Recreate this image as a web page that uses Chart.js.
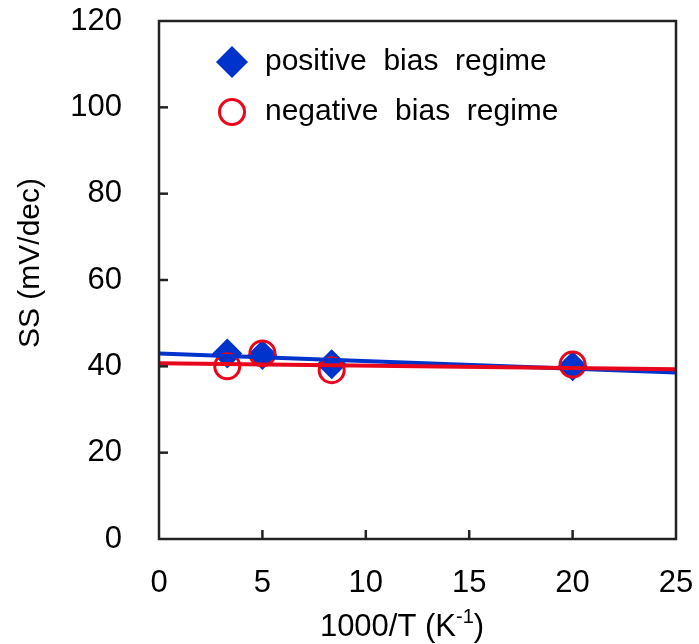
<!DOCTYPE html>
<html>
<head>
<meta charset="utf-8">
<script src="https://cdn.jsdelivr.net/npm/chart.js@4/dist/chart.umd.min.js"></script>
<style>
  html, body { margin: 0; padding: 0; background: #fff; }
  #chart { display: block; }
</style>
</head>
<body>
<canvas id="chart" width="699" height="644"></canvas>
<script>
// data
const invTemp = [3.3, 5.0, 8.35, 20.0];
const positiveSS = [43.0, 42.6, 40.5, 40.0];
const negativeSS = [40.0, 43.0, 39.1, 40.4];
const fitX = [0, 25];
const positiveFit = [43.0, 38.6];
const negativeFit = [40.7, 39.3];
const xTicks = [0, 5, 10, 15, 20, 25];
const yTicks = [0, 20, 40, 60, 80, 100, 120];

const blue = '#0033cc';
const red = '#e8061c';
const frame = '#222';
const fontFamily = '"Liberation Sans", Arial, sans-serif';

const toPoints = (xs, ys) => xs.map((x, i) => ({ x: x, y: ys[i] }));

const noPadding = scale => {
    scale.paddingTop = 0;
    scale.paddingBottom = 0;
    scale.paddingLeft = 0;
    scale.paddingRight = 0;
};

// frame, inward ticks, axis titles and legend
const decorations = {
    id: 'decorations',
    afterDraw(chart) {
        const ctx = chart.ctx;
        const area = chart.chartArea;
        const xs = chart.scales.x;
        const ys = chart.scales.y;
        ctx.save();

        ctx.strokeStyle = frame;
        ctx.lineWidth = 2.5;
        ctx.strokeRect(area.left, area.top, area.right - area.left, area.bottom - area.top);

        xTicks.slice(1, -1).forEach(v => {
            const px = xs.getPixelForValue(v);
            ctx.beginPath();
            ctx.moveTo(px, area.bottom);
            ctx.lineTo(px, area.bottom - 9);
            ctx.stroke();
        });
        yTicks.slice(1, -1).forEach(v => {
            const py = ys.getPixelForValue(v);
            ctx.beginPath();
            ctx.moveTo(area.left, py);
            ctx.lineTo(area.left + 9, py);
            ctx.stroke();
        });

        ctx.fillStyle = '#000';
        ctx.textBaseline = 'middle';

        // y title
        ctx.save();
        ctx.translate(31, 263);
        ctx.rotate(-Math.PI / 2);
        ctx.textAlign = 'center';
        ctx.font = '30px ' + fontFamily;
        ctx.fillText('SS (mV/dec)', 0, 0);
        ctx.restore();

        // x title with superscript
        ctx.font = '31px ' + fontFamily;
        const part1 = '1000/T (K';
        const sup = '-1';
        const part3 = ')';
        const w1 = ctx.measureText(part1).width;
        const w3 = ctx.measureText(part3).width;
        ctx.font = '20px ' + fontFamily;
        const w2 = ctx.measureText(sup).width;
        const total = w1 + w2 + w3;
        const tx = 402 - total / 2;
        const ty = 627;
        ctx.textAlign = 'left';
        ctx.font = '31px ' + fontFamily;
        ctx.fillText(part1, tx, ty);
        ctx.font = '20px ' + fontFamily;
        ctx.fillText(sup, tx + w1, ty - 10);
        ctx.font = '31px ' + fontFamily;
        ctx.fillText(part3, tx + w1 + w2, ty);

        // legend
        const legendRows = [
            { label: chart.data.datasets[3].label, style: 'rectRot', radius: 16, fill: blue, stroke: blue, bw: 0, y: 62 },
            { label: chart.data.datasets[2].label, style: 'circle', radius: 12.5, fill: 'rgba(0,0,0,0)', stroke: red, bw: 3, y: 112 }
        ];
        legendRows.forEach(row => {
            ctx.fillStyle = row.fill;
            ctx.strokeStyle = row.stroke;
            ctx.lineWidth = row.bw;
            Chart.helpers.drawPoint(ctx, { pointStyle: row.style, radius: row.radius, rotation: 0, borderWidth: row.bw }, 232, row.y);
            ctx.fillStyle = '#000';
            ctx.font = '30px ' + fontFamily;
            ctx.textAlign = 'left';
            ctx.fillText(row.label.split(' ').join('  '), 265, row.y);
        });

        ctx.restore();
    }
};

new Chart(document.getElementById('chart'), {
    type: 'scatter',
    data: {
        datasets: [
            {
                label: 'negative fit',
                data: toPoints(fitX, negativeFit),
                showLine: true,
                borderColor: red,
                borderWidth: 4,
                pointRadius: 0
            },
            {
                label: 'positive fit',
                data: toPoints(fitX, positiveFit),
                showLine: true,
                borderColor: blue,
                borderWidth: 4,
                pointRadius: 0
            },
            {
                label: 'negative bias regime',
                data: toPoints(invTemp, negativeSS),
                pointStyle: 'circle',
                pointRadius: 12.5,
                borderColor: red,
                borderWidth: 3,
                backgroundColor: 'rgba(0,0,0,0)'
            },
            {
                label: 'positive bias regime',
                data: toPoints(invTemp, positiveSS),
                pointStyle: 'rectRot',
                pointRadius: 15,
                borderWidth: 0,
                borderColor: blue,
                backgroundColor: blue
            }
        ]
    },
    options: {
        responsive: false,
        animation: false,
        layout: { padding: { top: 21, right: 23, left: 0, bottom: 0 } },
        plugins: {
            legend: { display: false },
            tooltip: { enabled: false }
        },
        scales: {
            x: {
                type: 'linear',
                min: 0,
                max: 25,
                afterBuildTicks: scale => { scale.ticks = xTicks.map(v => ({ value: v })); },
                afterFit: scale => { scale.height = 105; noPadding(scale); },
                grid: { display: false, drawTicks: false },
                border: { display: false },
                ticks: {
                    padding: 26,
                    color: '#000',
                    maxRotation: 0,
                    font: { family: fontFamily, size: 31 }
                }
            },
            y: {
                type: 'linear',
                min: 0,
                max: 120,
                afterBuildTicks: scale => { scale.ticks = yTicks.map(v => ({ value: v })); },
                afterFit: scale => { scale.width = 159; noPadding(scale); },
                grid: { display: false, drawTicks: false },
                border: { display: false },
                ticks: {
                    padding: 37,
                    color: '#000',
                    font: { family: fontFamily, size: 31 }
                }
            }
        }
    },
    plugins: [decorations]
});
</script>
</body>
</html>
